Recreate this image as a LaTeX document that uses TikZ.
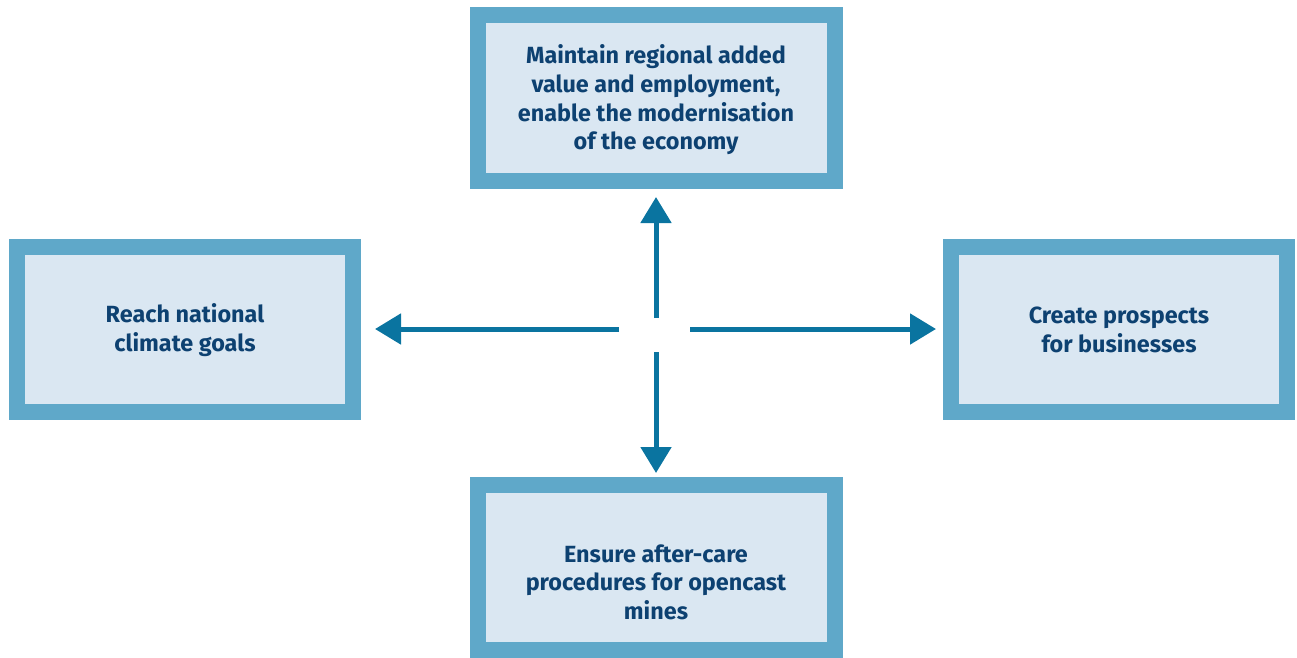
\documentclass[tikz,border=0pt]{standalone}
\usepackage{fontspec}
\setmainfont{Fira Sans}
\usetikzlibrary{arrows.meta}
\definecolor{rim}{HTML}{5FA8C9}
\definecolor{pane}{HTML}{DAE7F2}
\definecolor{ink}{HTML}{0D4171}
\definecolor{flow}{HTML}{0A74A0}
\tikzset{
  goal/.style={draw=rim, fill=pane, line width=16pt, inner sep=0pt},
  caption/.style={align=center, text=ink, inner sep=0pt,
    font=\fontsize{23.4}{28.6}\selectfont\bfseries},
  link/.style={draw=flow, line width=5pt, -{Triangle[length=26pt,width=30pt]}}
}
\begin{document}
\begin{tikzpicture}[x=1pt,y=-1pt]
\useasboundingbox (0,0) rectangle (1297,657);
\node[goal, minimum width=357pt, minimum height=166pt] (top) at (656,98) {};
\node[caption] (toptext) at (656,100)
  {Maintain regional added\\value and employment,\\enable the modernisation\\of the economy};
\node[goal, minimum width=336pt, minimum height=165pt] (left) at (185,329.5) {};
\node[caption] (lefttext) at (185,330) {Reach national\\climate goals};
\node[goal, minimum width=336pt, minimum height=165pt] (right) at (1119,329.5) {};
\node[caption] (righttext) at (1119,330) {Create prospects\\for businesses};
\node[goal, minimum width=357pt, minimum height=165pt] (bottom) at (656,567.5) {};
\node[caption] (bottomtext) at (656,582) {Ensure after-care\\procedures for opencast\\mines};
\coordinate (hub) at (656,329);
\draw[link, shorten <=11pt, shorten >=8pt] (hub) -- (hub |- top.south);
\draw[link, shorten <=23pt, shorten >=4pt] (hub) -- (hub |- bottom.north);
\draw[link, shorten <=37pt, shorten >=14pt] (hub) -- (hub -| left.east);
\draw[link, shorten <=34pt, shorten >=7pt] (hub) -- (hub -| right.west);
\end{tikzpicture}
\end{document}
